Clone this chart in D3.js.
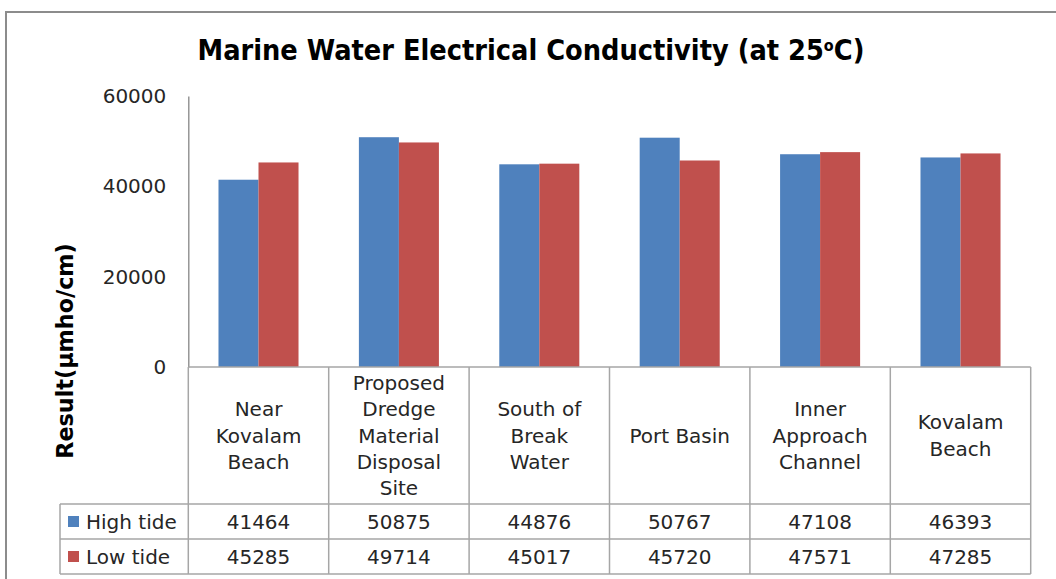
<!DOCTYPE html>
<html>
<head>
<meta charset="utf-8">
<script src="https://cdn.jsdelivr.net/npm/d3@7"></script>
<style>
  html, body { margin: 0; padding: 0; background: #fff; }
  svg { display: block; }
  text { font-family: "DejaVu Sans", Verdana, sans-serif; fill: #262626; }
</style>
</head>
<body>
<svg id="chart" width="1056" height="579"></svg>
<script>
const categories = [
  "Near\nKovalam\nBeach",
  "Proposed\nDredge\nMaterial\nDisposal\nSite",
  "South of\nBreak\nWater",
  "Port Basin",
  "Inner\nApproach\nChannel",
  "Kovalam\nBeach"
];
const seriesNames = ["High tide", "Low tide"];
const highTide = [41464, 50875, 44876, 50767, 47108, 46393];
const lowTide  = [45285, 49714, 45017, 45720, 47571, 47285];
const yTicks = [0, 20000, 40000, 60000];
const colors = ["#4F81BD", "#C0504D"];

const seriesValues = [highTide, lowTide];
const svg = d3.select("#chart");

// outer frame
svg.append("rect")
  .attr("x", 6).attr("y", 12).attr("width", 1100).attr("height", 620)
  .attr("fill", "none").attr("stroke", "#8c8c8c").attr("stroke-width", 2);

// title
const title = svg.append("text")
  .attr("x", 531).attr("y", 60)
  .attr("text-anchor", "middle")
  .style("font-family", "'DejaVu Sans Condensed', 'DejaVu Sans', sans-serif")
  .style("font-stretch", "condensed")
  .style("font-weight", "bold")
  .style("font-size", "28.6px")
  .style("fill", "#000");
title.append("tspan").text("Marine Water Electrical Conductivity (at 25");
title.append("tspan").text("o").style("font-size", "16px").attr("dy", -9);
title.append("tspan").text("C)").attr("dy", 9);

const plotLeft = 188.3, plotRight = 1030.7, plotTop = 96, plotBottom = 367;
const tableLeft = 60, row1Bottom = 504, row2Bottom = 539, row3Bottom = 574;

const x = d3.scaleBand().domain(d3.range(categories.length))
  .range([plotLeft, plotRight]).padding(0);
const groupW = x.bandwidth() * 0.57;
const xs = d3.scaleBand().domain(d3.range(seriesNames.length))
  .range([0, groupW]).padding(0);
const y = d3.scaleLinear().domain([0, 60000]).range([plotBottom, plotTop]);

// y axis
const yAxis = d3.axisLeft(y).tickValues(yTicks).tickSize(0).tickPadding(22)
  .tickFormat(d3.format("d"));
const ya = svg.append("g").attr("transform", `translate(${plotLeft},0)`).call(yAxis);
ya.select(".domain").attr("stroke", "#868686").attr("stroke-width", 1.3);
ya.selectAll("text").style("font-size", "20px").style("fill", "#262626")
  .style("font-family", "'DejaVu Sans', sans-serif");

// y label
svg.append("text")
  .attr("transform", `translate(73,351) rotate(-90)`)
  .attr("text-anchor", "middle")
  .style("font-weight", "bold").style("font-size", "22.3px").style("fill", "#000")
  .text("Result(µmho/cm)");

// bars
seriesValues.forEach((vals, si) => {
  svg.append("g").selectAll("rect").data(vals).join("rect")
    .attr("x", (d, i) => x(i) + (x.bandwidth() - groupW) / 2 + xs(si))
    .attr("width", xs.bandwidth())
    .attr("y", d => y(d))
    .attr("height", d => y(0) - y(d))
    .attr("fill", colors[si]);
});

// table lines
const lineColor = "#a6a6a6";
const tg = svg.append("g").attr("stroke", lineColor).attr("stroke-width", 1.5);
tg.append("line").attr("x1", plotLeft).attr("x2", plotRight).attr("y1", plotBottom).attr("y2", plotBottom);
[row1Bottom, row2Bottom, row3Bottom].forEach(yy => {
  tg.append("line").attr("x1", tableLeft).attr("x2", plotRight).attr("y1", yy).attr("y2", yy);
});
d3.range(categories.length + 1).forEach(i => {
  const xx = i < categories.length ? x(i) : plotRight;
  tg.append("line").attr("x1", xx).attr("x2", xx).attr("y1", plotBottom).attr("y2", row3Bottom);
});
tg.append("line").attr("x1", tableLeft).attr("x2", tableLeft).attr("y1", row1Bottom).attr("y2", row3Bottom);

// category labels
const lineH = 26.2;
const headerMid = (plotBottom + row1Bottom) / 2;
categories.forEach((c, i) => {
  const lines = c.split("\n");
  const t = svg.append("text")
    .attr("text-anchor", "middle")
    .style("font-size", "20px");
  lines.forEach((ln, k) => {
    t.append("tspan")
      .attr("x", x(i) + x.bandwidth() / 2)
      .attr("y", headerMid + (k - (lines.length - 1) / 2) * lineH)
      .attr("dy", "0.35em")
      .text(ln);
  });
});

// value rows
const rowMids = [(row1Bottom + row2Bottom) / 2, (row2Bottom + row3Bottom) / 2];
seriesValues.forEach((vals, si) => {
  svg.append("rect")
    .attr("x", 68).attr("y", rowMids[si] - 5.5).attr("width", 11).attr("height", 11)
    .attr("fill", colors[si]);
  svg.append("text")
    .attr("x", 86).attr("y", rowMids[si]).attr("dy", "0.35em")
    .style("font-size", "20px")
    .text(seriesNames[si]);
  svg.append("g").selectAll("text").data(vals).join("text")
    .attr("x", (d, i) => x(i) + x.bandwidth() / 2)
    .attr("y", rowMids[si]).attr("dy", "0.35em")
    .attr("text-anchor", "middle")
    .style("font-size", "20px")
    .text(d => d);
});
</script>
</body>
</html>
